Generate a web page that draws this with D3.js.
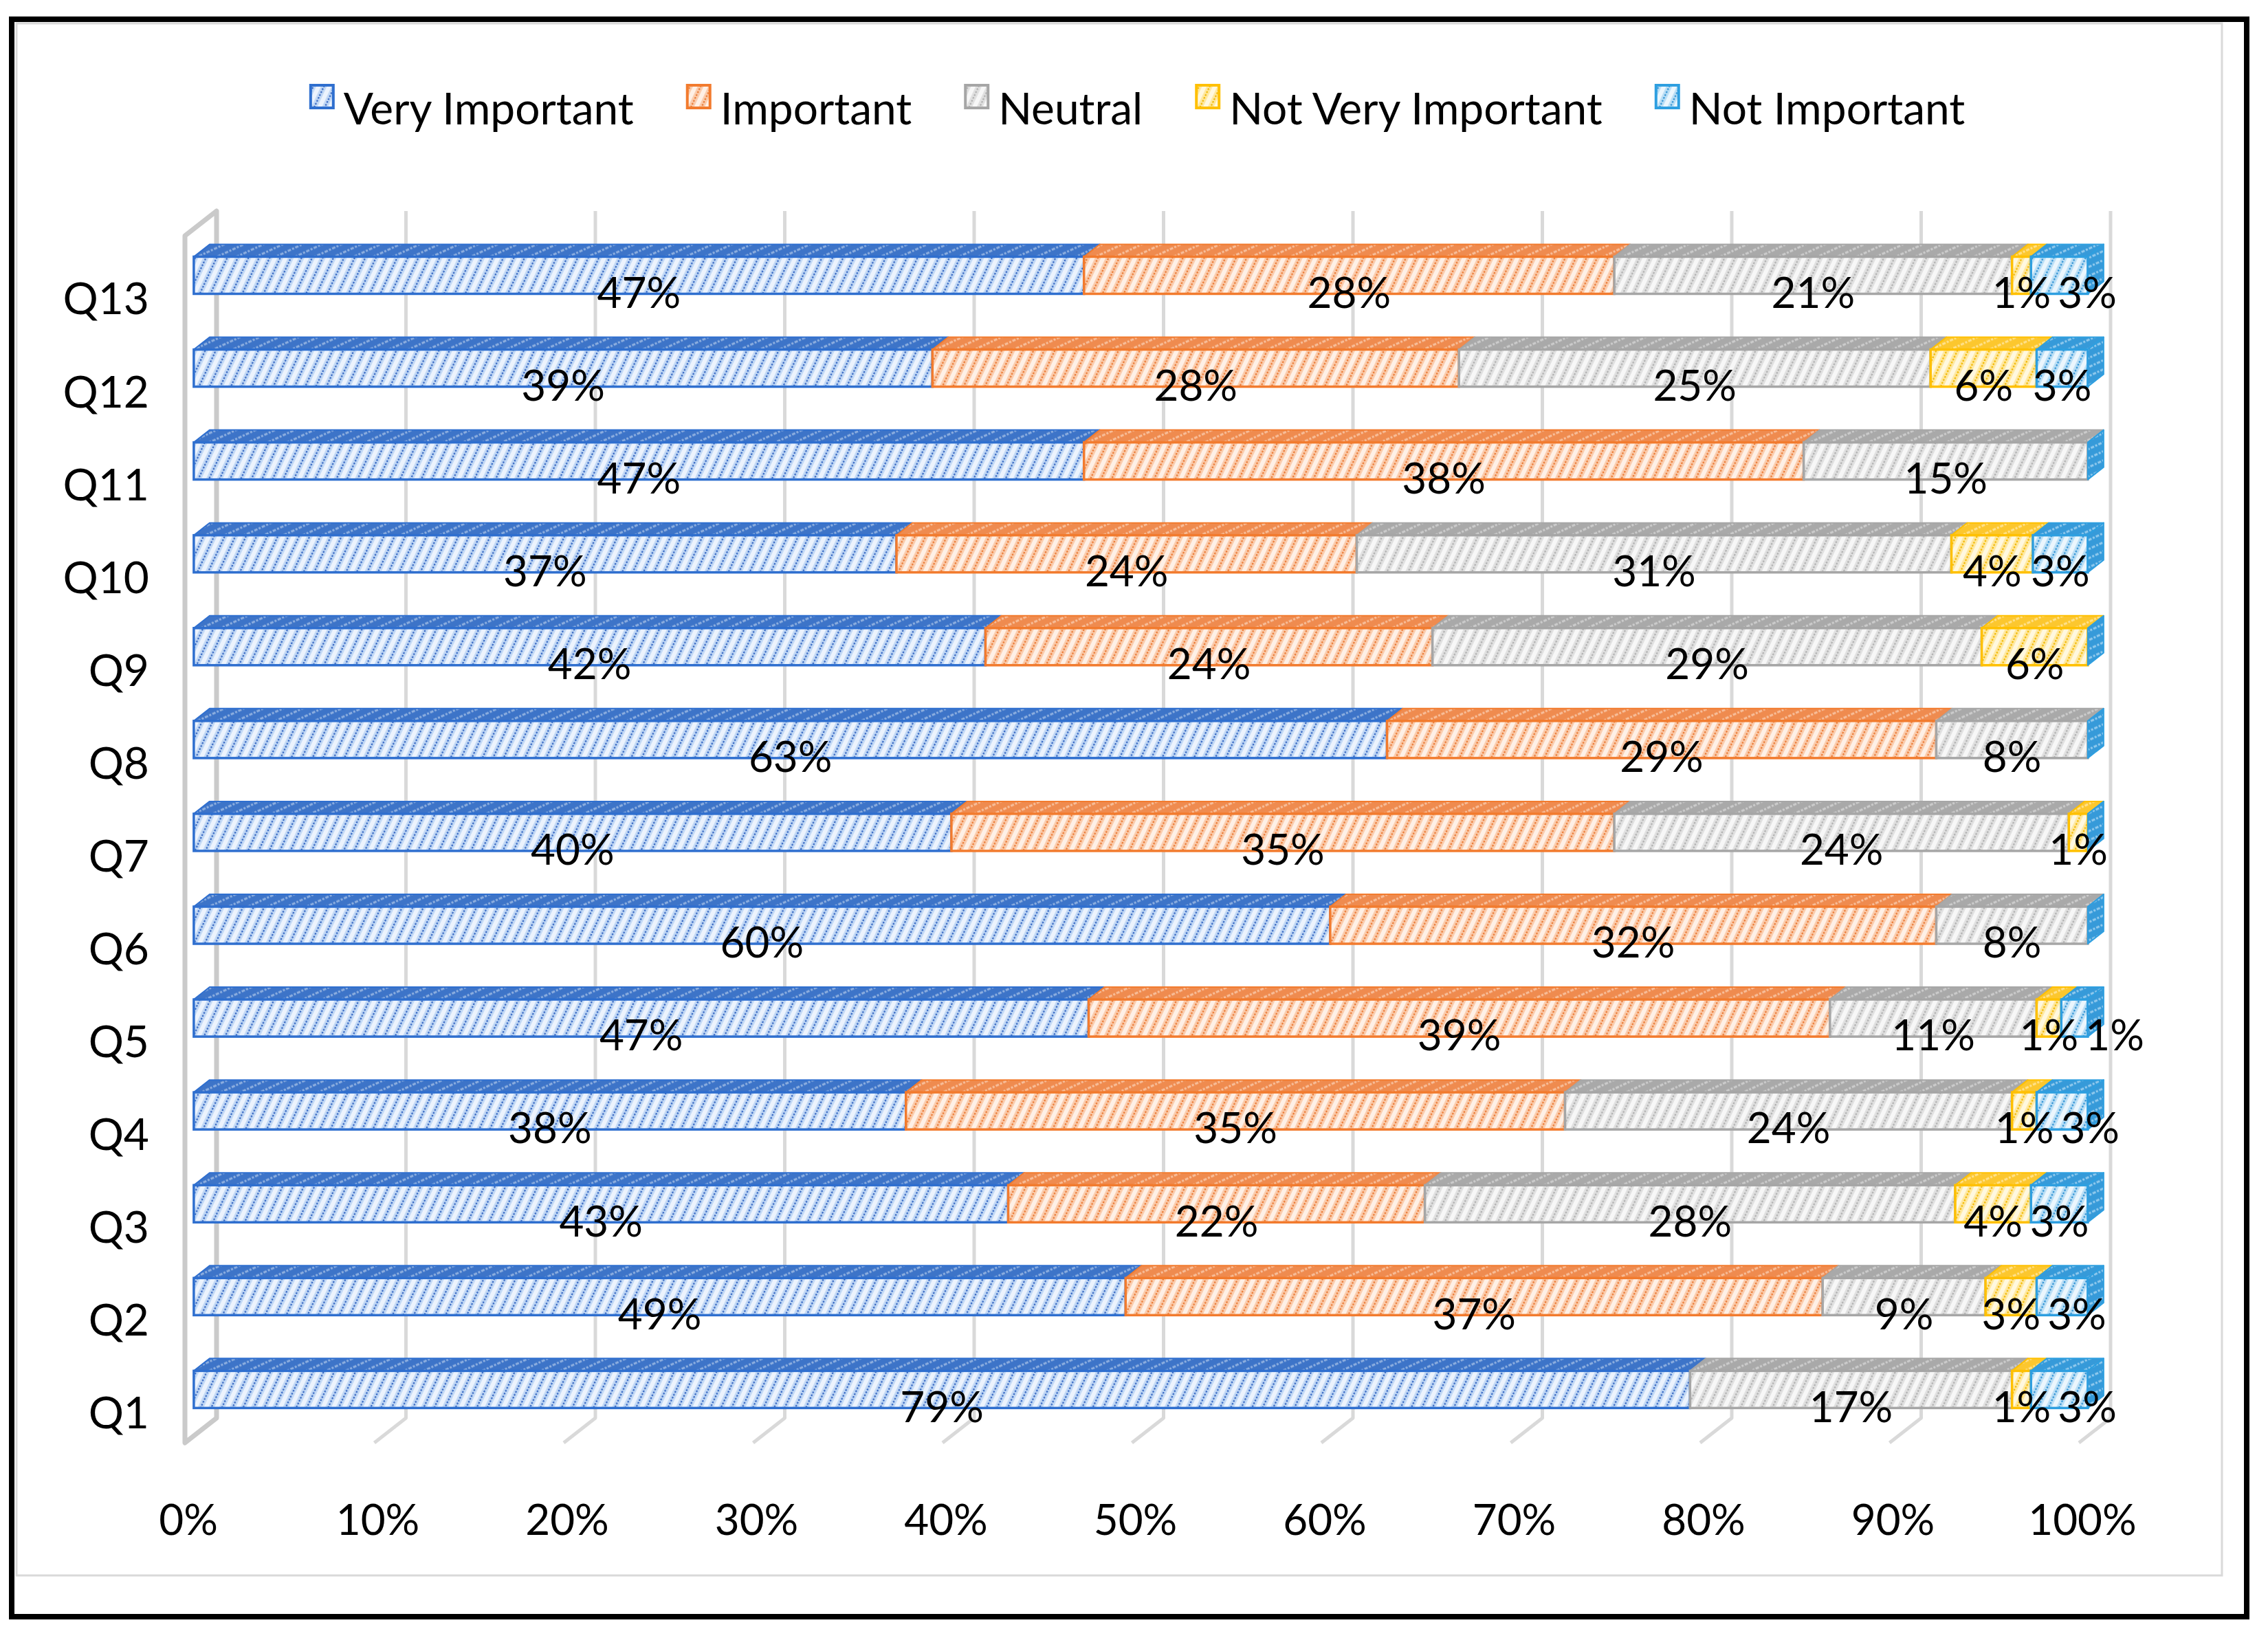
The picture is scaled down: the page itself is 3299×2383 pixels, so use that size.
<!DOCTYPE html>
<html><head><meta charset="utf-8">
<script src="https://cdn.jsdelivr.net/npm/d3@7"></script>
<style>html,body{margin:0;padding:0;background:#fff;} svg{display:block;}</style>
</head><body>
<svg id="chart" width="3299" height="2383"></svg>
<script>
// ---------- DATA (percent; labels are the rounded values) ----------
const categories = ["Q1","Q2","Q3","Q4","Q5","Q6","Q7","Q8","Q9","Q10","Q11","Q12","Q13"];
const seriesNames = ["Very Important","Important","Neutral","Not Very Important","Not Important"];
const veryImportant    = [79, 49.2, 43, 37.6, 47.2, 60, 40, 63, 41.8, 37.1, 47, 39.0, 47];
const important        = [ 0, 36.8, 22, 34.8, 39.1, 32, 35, 29, 23.6, 24.3, 38, 27.8, 28];
const neutral          = [17,  8.6, 28, 23.6, 10.9,  8, 24,  8, 29.0, 31.4, 15, 24.9, 21];
const notVeryImportant = [ 1,  2.7,  4,  1.3,  1.3,  0,  1,  0,  5.6,  4.3,  0,  5.6,  1];
const notImportant     = [ 3,  2.7,  3,  2.7,  1.4,  0,  0,  0,  0,    2.9,  0,  2.7,  3];
const xTickValues = [0,10,20,30,40,50,60,70,80,90,100];
const xTickLabels = ["0%","10%","20%","30%","40%","50%","60%","70%","80%","90%","100%"];

// ---------- STYLE ----------
const seriesStyle = [
  {edge:"#2f6fcf", bg:"#c4daf6", light:"#ecf3fd", dot:"#3567c2", top:"#3d74c8", topLine:"#8fb0e0"},
  {edge:"#f27b2e", bg:"#fbcdae", light:"#fef0e6", dot:"#ea7a35", top:"#ef8b4f", topLine:"#f8c09c"},
  {edge:"#a6a6a6", bg:"#e1e1e1", light:"#f7f7f7", dot:"#b0b0b0", top:"#a9a9a9", topLine:"#cdcdcd"},
  {edge:"#ffc000", bg:"#ffe9a3", light:"#fff8df", dot:"#f2b800", top:"#fcc72e", topLine:"#ffe28f"},
  {edge:"#2e9fe0", bg:"#bde0f6", light:"#ebf6fd", dot:"#2f92d4", top:"#369ad9", topLine:"#93cbee"}
];
const FONT = "Lato, 'Open Sans', sans-serif";

const svg = d3.select("#chart");

// frame
svg.append("rect").attr("x",17).attr("y",28).attr("width",3251).attr("height",2324)
  .attr("fill","#fff").attr("stroke","#000").attr("stroke-width",8);
svg.append("rect").attr("x",24).attr("y",34).attr("width",3208).attr("height",2258)
  .attr("fill","none").attr("stroke","#d9d9d9").attr("stroke-width",3);

// patterns
const defs = svg.append("defs");
seriesStyle.forEach((s,i)=>{
  const pf = defs.append("pattern").attr("id","front"+i).attr("patternUnits","userSpaceOnUse")
    .attr("width",14).attr("height",14).attr("patternTransform","rotate(25)");
  pf.append("rect").attr("width",14).attr("height",14).attr("fill",s.bg);
  pf.append("rect").attr("x",0).attr("width",6).attr("height",14).attr("fill",s.light);
  pf.append("line").attr("x1",10).attr("x2",10).attr("y1",0).attr("y2",14)
    .attr("stroke",s.dot).attr("stroke-width",2.4).attr("stroke-dasharray","2.6 2.1");
  const pt = defs.append("pattern").attr("id","top"+i).attr("patternUnits","userSpaceOnUse")
    .attr("width",12).attr("height",12).attr("patternTransform","rotate(65)");
  pt.append("rect").attr("width",12).attr("height",12).attr("fill",s.top);
  pt.append("line").attr("x1",4).attr("x2",4).attr("y1",0).attr("y2",12)
    .attr("stroke",s.topLine).attr("stroke-width",3).attr("stroke-dasharray","3 2");
});

// scales (front floor plane)
const x = d3.scaleLinear().domain([0,100]).range([269,3024]);
const y = d3.scaleBand().domain(categories.slice().reverse()).range([343,2099])
  .paddingInner(0.6).paddingOuter(0.3);
const DX = 46, DY = -36, T0 = 0.28, T1 = 0.78;
const P = (v, yy, t) => [x(v) + DX*t, yy + DY*t];

// gridlines (back wall + floor)
const grid = svg.append("g");
const yTopBack = y.range()[0] + DY, yBotBack = y.range()[1] + DY, yBotFront = y.range()[1];
xTickValues.forEach(v=>{
  if (v === 0) return;
  grid.append("path")
    .attr("d", `M${x(v)+DX},${yTopBack}L${x(v)+DX},${yBotBack}L${x(v)},${yBotFront}`)
    .attr("fill","none").attr("stroke","#d9d9d9").attr("stroke-width",5).attr("stroke-linejoin","round");
});
// side wall
grid.append("path")
  .attr("d", `M${x(0)},${y.range()[0]}L${x(0)+DX},${yTopBack}L${x(0)+DX},${yBotBack}L${x(0)},${yBotFront}Z`)
  .attr("fill","none").attr("stroke","#cacaca").attr("stroke-width",7).attr("stroke-linejoin","round");

// stacked data
const seriesArrays = [veryImportant,important,neutral,notVeryImportant,notImportant];
const table = categories.map((c,ci)=>{
  const row = {category:c};
  seriesNames.forEach((s,si)=>{ row[s] = seriesArrays[si][ci]; });
  return row;
});
const stacked = d3.stack().keys(seriesNames).offset(d3.stackOffsetExpand)(table);

const bars = svg.append("g");
const labels = svg.append("g").attr("font-family",FONT).attr("font-size",62).attr("fill","#000");
const bw = y.bandwidth();

categories.forEach((c,ci)=>{
  const yTop = y(c), yBot = yTop + bw;
  const g = bars.append("g");
  const labelNodes = [];
  stacked.forEach((layer,si)=>{
    const d = layer[ci];
    const a = d[0]*100, b = d[1]*100;
    const val = d.data[seriesNames[si]];
    if (val <= 0) return;
    const s = seriesStyle[si];
    const pts = [P(a,yTop,T0),P(b,yTop,T0),P(b,yTop,T1),P(a,yTop,T1)];
    g.append("polygon").attr("points",pts.map(p=>p.join(",")).join(" "))
      .attr("fill",`url(#top${si})`).attr("stroke",s.edge).attr("stroke-width",2).attr("stroke-linejoin","round");
    const p0 = P(a,yTop,T0), p1 = P(b,yBot,T0);
    g.append("rect").attr("x",p0[0]).attr("y",p0[1]).attr("width",p1[0]-p0[0]).attr("height",p1[1]-p0[1])
      .attr("fill",`url(#front${si})`).attr("stroke",s.edge).attr("stroke-width",3.5);
    const t = labels.append("text")
      .attr("x", (P(a,0,T0)[0] + P(b,0,T0)[0]) / 2)
      .attr("y", yTop + bw/2 + DY*T0 + 25)
      .attr("dy","0.36em").attr("text-anchor","middle")
      .text(Math.round(val) + "%");
    labelNodes.push(t);
  });
  // right end face
  const last = seriesStyle[4];
  const side = [P(100,yTop,T0),P(100,yTop,T1),P(100,yBot,T1),P(100,yBot,T0)];
  g.append("polygon").attr("points",side.map(p=>p.join(",")).join(" "))
    .attr("fill",`url(#top4)`).attr("stroke",last.edge).attr("stroke-width",2).attr("stroke-linejoin","round");
  // avoid label overlap
  let prevRight = -Infinity;
  labelNodes.forEach(t=>{
    const w = t.node().getComputedTextLength();
    let cx = +t.attr("x");
    if (cx - w/2 < prevRight + 10) { cx = prevRight + 10 + w/2; t.attr("x", cx); }
    prevRight = cx + w/2;
  });
});

// category labels
const catG = svg.append("g").attr("font-family",FONT).attr("font-size",64).attr("fill","#000");
categories.forEach(c=>{
  catG.append("text").attr("x",217).attr("y", y(c) + bw/2 + DY*T0 + 34)
    .attr("dy","0.36em").attr("text-anchor","end").text(c);
});

// x tick labels
const tickG = svg.append("g").attr("font-family",FONT).attr("font-size",62).attr("fill","#000");
xTickValues.forEach((v,i)=>{
  tickG.append("text").attr("x", x(v)+5).attr("y",2211).attr("dy","0.36em")
    .attr("text-anchor","middle").text(xTickLabels[i]);
});

// legend
const legG = svg.append("g").attr("font-family",FONT).attr("font-size",64).attr("fill","#000");
const items = [];
let cursor = 0;
const GAP = 76;
seriesNames.forEach((name,si)=>{
  const ig = legG.append("g");
  ig.append("rect").attr("x",2).attr("y",-57).attr("width",33).attr("height",33)
    .attr("fill",`url(#front${si})`).attr("stroke",seriesStyle[si].edge).attr("stroke-width",4);
  const t = ig.append("text").attr("x",50).attr("y",0).text(name);
  const w = 50 + t.node().getComputedTextLength();
  items.push({ig, x:cursor});
  cursor += w + GAP;
});
const totalW = cursor - GAP;
const startX = 1654 - totalW/2;
items.forEach(it=> it.ig.attr("transform",`translate(${startX + it.x},181)`));
</script>
</body></html>
